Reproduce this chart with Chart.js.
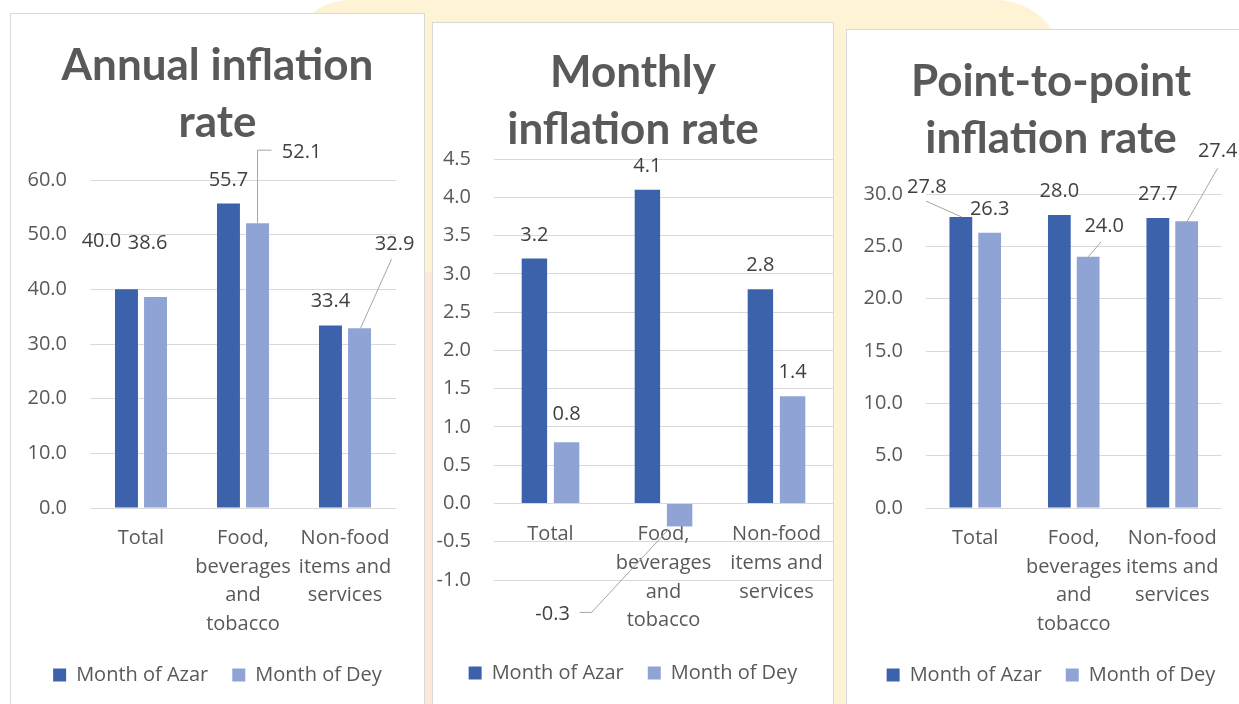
<!DOCTYPE html>
<html>
<head>
<meta charset="utf-8">
<script src="https://cdn.jsdelivr.net/npm/chart.js@4.4.1/dist/chart.umd.min.js"></script>
<style>
  html, body { margin: 0; padding: 0; }
  body { width: 1239px; height: 704px; overflow: hidden; position: relative; background: #fff; }
  .wm { position: absolute; left: 290px; top: 0; width: 775px; height: 704px; background: #fff3d6; border-top-right-radius: 70px; border-top-left-radius: 60px; }
  .wm2 { position: absolute; left: 420px; top: 272px; width: 16px; height: 432px; background: #fde9dc; }
  .panel { position: absolute; background: #fff; border: 1px solid #d9d9d9; overflow: hidden; }
  .panel canvas { display: block; }
</style>
</head>
<body>
<div class="wm"></div>
<div class="wm2"></div>
<div class="panel" style="left:10px; top:13px; width:413px; height:700px;"><canvas id="annual" width="413" height="700"></canvas></div>
<div class="panel" style="left:432px; top:22px; width:400px; height:700px;"><canvas id="monthly" width="408" height="700"></canvas></div>
<div class="panel" style="left:846px; top:29px; width:408px; height:700px;"><canvas id="p2p" width="408" height="700"></canvas></div>
<script>
// Data
const categories = ['Total', ['Food,', 'beverages', 'and', 'tobacco'], ['Non-food', 'items and', 'services']];
const seriesNames = ['Month of Azar', 'Month of Dey'];

const annualAzar = [40.0, 55.7, 33.4];
const annualDey = [38.6, 52.1, 32.9];

const monthlyAzar = [3.2, 4.1, 2.8];
const monthlyDey = [0.8, -0.3, 1.4];

const pointAzar = [27.8, 28.0, 27.7];
const pointDey = [26.3, 24.0, 27.4];

const azarColor = '#3c62ac';
const deyColor = '#8fa3d5';
const textColor = '#595959';
const FONT = '"Open Sans", Lato, sans-serif';
const TITLE_FONT = 'Lato, "Open Sans", sans-serif';

// Where each value label sits relative to its bar end (null = just above / below)
const annualLabelPos = [
    [{dx: -25, dy: -42}, null, null],
    [{dx: -8, dy: -48}, {dx: 44, dy: -65, leader: [[0, 0], [0, -73], [14, -73]]}, {dx: 35, dy: -78, leader: [[1, 0], [32, -69]]}]
];
const monthlyLabelPos = [
    [null, null, null],
    [{dx: 0, dy: -22}, {dx: -127, dy: 94, leader: [[-12, 4], [-88, 86], [-100, 86]]}, null]
];
const pointLabelPos = [
    [{dx: -34, dy: -24, leader: [[1, 0], [-35, -16]]}, null, null],
    [null, {dx: 16, dy: -25, leader: [[0, 0], [13, -15]]}, {dx: 31, dy: -64, leader: [[0, 1], [31, -53]]}]
];

// Draws value labels (and leader lines) next to the bars
const barLabels = {
    id: 'barLabels',
    afterDatasetsDraw: function(chart, args, opts) {
        let ctx = chart.ctx;
        ctx.save();
        ctx.font = '20px ' + FONT;
        ctx.textAlign = 'center';
        ctx.textBaseline = 'alphabetic';
        chart.data.datasets.forEach(function(ds, di) {
            let meta = chart.getDatasetMeta(di);
            meta.data.forEach(function(bar, i) {
                let v = ds.data[i];
                let pos = (opts.pos[di] && opts.pos[di][i]) || (v < 0 ? {dx: 0, dy: 32} : {dx: 0, dy: -18});
                if ( pos.leader ) {
                    ctx.strokeStyle = '#a6a6a6';
                    ctx.lineWidth = 1;
                    ctx.beginPath();
                    pos.leader.forEach(function(p, k) {
                        if ( k == 0 ) ctx.moveTo(bar.x + p[0], bar.y + p[1]);
                        else ctx.lineTo(bar.x + p[0], bar.y + p[1]);
                    });
                    ctx.stroke();
                }
                ctx.fillStyle = '#404040';
                ctx.fillText(v.toFixed(1), bar.x + pos.dx, bar.y + pos.dy);
            });
        });
        ctx.restore();
    }
};

function makeChart(id, title, azar, dey, yMin, yMax, step, labelPos, g) {
    let ctx = document.getElementById(id).getContext('2d');
    return new Chart(ctx, {
        type: 'bar',
        data: {
            labels: categories,
            datasets: [
                { label: seriesNames[0], data: azar, backgroundColor: azarColor, xAxisID: 'x', yAxisID: 'y',
                  categoryPercentage: g.catPct, barPercentage: 0.79 },
                { label: seriesNames[1], data: dey, backgroundColor: deyColor, xAxisID: 'x', yAxisID: 'y',
                  categoryPercentage: g.catPct, barPercentage: 0.79 }
            ]
        },
        plugins: [barLabels],
        options: {
            responsive: false,
            animation: false,
            layout: { padding: { left: 0, right: g.padRight, top: 0, bottom: g.padBottom } },
            scales: {
                x: {
                    type: 'category',
                    position: 'bottom',
                    grid: { display: false },
                    border: { display: false },
                    ticks: { display: false },
                    afterFit: function(s) { s.height = g.xHeight; }
                },
                xl: {
                    axis: 'x',
                    type: 'category',
                    position: { y: 0 },
                    offset: true,
                    grid: { display: false, drawTicks: false },
                    border: { display: false },
                    ticks: { color: textColor, padding: g.xPad, maxRotation: 0, autoSkip: false,
                             font: { family: FONT, size: 20, lineHeight: 1.43 } }
                },
                y: {
                    min: yMin,
                    max: yMax,
                    grid: { color: '#d9d9d9', lineWidth: 1, drawTicks: false },
                    border: { display: false },
                    ticks: {
                        stepSize: step,
                        color: textColor,
                        padding: g.yPad,
                        font: { family: FONT, size: 20 },
                        callback: function(v) { return Number(v).toFixed(1); }
                    },
                    afterFit: function(s) { s.width = g.yWidth; }
                },
                // empty right-hand axis, only keeps the plot clear of the panel edge
                yr: {
                    type: 'linear',
                    position: 'right',
                    grid: { display: false, drawTicks: false },
                    border: { display: false },
                    ticks: { display: false },
                    afterFit: function(s) { s.width = g.rightGap; }
                }
            },
            plugins: {
                title: {
                    display: true,
                    text: title,
                    color: textColor,
                    font: { family: TITLE_FONT, size: 44, weight: 'bold', lineHeight: 1.307 },
                    padding: { top: g.titleTop, bottom: g.titleBottom }
                },
                legend: {
                    position: 'bottom',
                    labels: { color: textColor, boxWidth: 13, boxHeight: 13, padding: 24,
                              font: { family: FONT, size: 20 } }
                },
                tooltip: { enabled: false },
                barLabels: { pos: labelPos }
            }
        }
    });
}

makeChart('annual', ['Annual inflation', 'rate'], annualAzar, annualDey, 0, 60, 10, annualLabelPos,
    { catPct: 0.57, padRight: 0, rightGap: 28, padBottom: 19, xHeight: 133, xPad: 16, yPad: 23, yWidth: 79, titleTop: 23, titleBottom: 28 });
makeChart('monthly', ['Monthly', 'inflation rate'], monthlyAzar, monthlyDey, -1, 4.5, 0.5, monthlyLabelPos,
    { catPct: 0.57, padRight: 8, rightGap: 0, padBottom: 30, xHeight: 59, xPad: 17, yPad: 23, yWidth: 61, titleTop: 21, titleBottom: 0 });
makeChart('p2p', ['Point-to-point', 'inflation rate'], pointAzar, pointDey, 0, 30, 5, pointLabelPos,
    { catPct: 0.585, padRight: 0, rightGap: 33.5, padBottom: 35, xHeight: 133, xPad: 16, yPad: 23, yWidth: 79, titleTop: 23, titleBottom: 26 });
</script>
</body>
</html>
